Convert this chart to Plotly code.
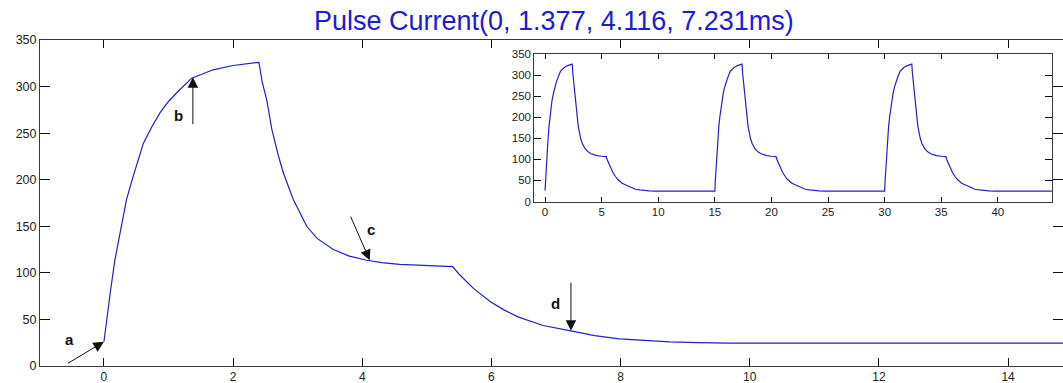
import plotly.graph_objects as go

# ---- data ----
pulse_t = [0, 0.05, 0.10, 0.17, 0.25, 0.35, 0.45, 0.61, 0.75, 0.87, 1.0, 1.15, 1.36, 1.5, 1.69, 2.0, 2.2, 2.40,
           2.45, 2.52, 2.60, 2.70, 2.78, 2.93, 3.14, 3.30, 3.55, 3.80, 4.07, 4.30, 4.58, 5.0, 5.40,
           5.50, 5.72, 5.99, 6.20, 6.41, 6.80, 7.23, 7.60, 7.98, 8.40, 8.76, 9.20, 9.67, 11.44, 14.85, 15.0]
pulse_i = [26, 54, 80, 114, 143, 179, 203, 239, 258, 272, 284, 295, 309, 313, 318, 322.6, 324.5, 326,
           305, 286, 254, 226, 207, 179, 150, 137, 125, 118, 113.5, 111, 109, 107.5, 106.7,
           98.5, 83.3, 68.8, 60, 52.7, 43.5, 37.8, 32.6, 29.2, 27.5, 25.8, 25.2, 24.6, 24.5, 24.5, 24.5]
pulse_starts = [0, 15, 30]          # inset: three periods of the same pulse

main_xticks = [0, 2, 4, 6, 8, 10, 12, 14]
main_yticks = [0, 50, 100, 150, 200, 250, 300, 350]
inset_xticks = [0, 5, 10, 15, 20, 25, 30, 35, 40]
inset_yticks = [0, 50, 100, 150, 200, 250, 300, 350]

marker_labels = ["a", "b", "c", "d"]
marker_t = [0, 1.377, 4.116, 7.231]
marker_tip_i = [26, 310, 113.5, 37.8]
marker_tail_t = [-0.58, 1.377, 3.81, 7.231]
marker_tail_i = [2, 258, 162, 91]
label_t = [-0.53, 1.15, 4.13, 6.99]
label_i = [28, 269, 147, 67.5]

title_text = "Pulse Current(0, 1.377, 4.116, 7.231ms)"

# ---- figure ----
line_col = "#2020cc"
axis_col = "#3a3a3a"
FONT = "Liberation Sans, Arial, sans-serif"
tick_font = dict(family=FONT, size=12.5, color="#222")

inset_t, inset_i = [], []
for s in pulse_starts:
    inset_t += [t + s for t in pulse_t]
    inset_i += list(pulse_i)

fig = go.Figure()
fig.add_trace(go.Scatter(x=pulse_t, y=pulse_i, mode="lines",
                         line=dict(color=line_col, width=1.2), xaxis="x", yaxis="y",
                         showlegend=False, hoverinfo="skip"))
fig.add_trace(go.Scatter(x=inset_t, y=inset_i, mode="lines",
                         line=dict(color=line_col, width=1.2), xaxis="x2", yaxis="y2",
                         showlegend=False, hoverinfo="skip"))

annotations = []
for lab, t, yi, tt, ti, lt, li in zip(marker_labels, marker_t, marker_tip_i, marker_tail_t,
                                      marker_tail_i, label_t, label_i):
    annotations.append(dict(x=t, y=yi, ax=tt, ay=ti, xref="x", yref="y", axref="x", ayref="y",
                            showarrow=True, arrowhead=2, arrowsize=2.1, arrowwidth=1,
                            arrowcolor="#111", text="", standoff=0, startstandoff=0))
    annotations.append(dict(x=lt, y=li, xref="x", yref="y", text="<b>%s</b>" % lab,
                            showarrow=False, font=dict(family=FONT, size=15, color="#111")))

# title as a paper annotation for precise placement
annotations.append(dict(text=title_text, xref="paper", yref="paper", x=0.502, y=1 + 19 / 326,
                        xanchor="center", yanchor="middle", showarrow=False,
                        font=dict(family=FONT, size=27, color="#1c1cd2")))

common = dict(showgrid=False, zeroline=False, automargin=False, tickcolor="#111", tickwidth=1,
              showline=True, linecolor=axis_col, linewidth=1, mirror="ticks", ticks="inside")

fig.update_layout(
    width=1063, height=383,
    margin=dict(l=40, r=0, t=40, b=17, autoexpand=False),
    paper_bgcolor="white", plot_bgcolor="white",
    xaxis=dict(domain=[0, 1], range=[-0.99, 14.85], tickvals=main_xticks, ticklen=8,
               tickfont=dict(family=FONT, size=12, color="#222"), anchor="y", **common),
    yaxis=dict(domain=[0, 1], range=[0, 350], tickvals=main_yticks, ticklen=10,
               tickfont=tick_font, anchor="x", **common),
    xaxis2=dict(domain=[0.4832, 0.989], range=[-0.95, 44.76], tickvals=inset_xticks, ticklen=5,
                anchor="y2", tickfont=dict(family=FONT, size=11.5, color="#222"), **common),
    yaxis2=dict(domain=[0.5045, 0.957], range=[0, 350], tickvals=inset_yticks, ticklen=7,
                anchor="x2", tickfont=dict(family=FONT, size=11.5, color="#222"), **common),
    annotations=annotations,
)

# remove the browser's default 8px body margin so the figure sits at the page corner
fig.write_html("out.html", config={"displayModeBar": False},
               post_script="document.body.style.margin='0';")
